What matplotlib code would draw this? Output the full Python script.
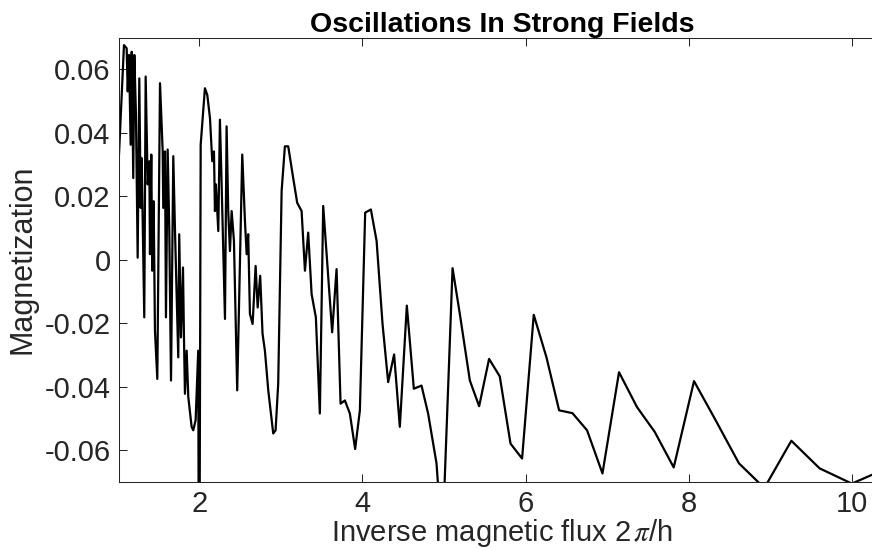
import matplotlib
matplotlib.use("Agg")
import matplotlib.pyplot as plt

# inverse flux values
inv_flux = [1.013, 1.074, 1.107, 1.120, 1.136, 1.156, 1.169, 1.188, 1.201, 1.221,
            1.242, 1.262, 1.279, 1.291, 1.304, 1.323, 1.340, 1.365, 1.385, 1.393,
            1.409, 1.421, 1.438, 1.454, 1.483, 1.516, 1.549, 1.556, 1.577, 1.589,
            1.610, 1.630, 1.651, 1.679, 1.700, 1.740, 1.752, 1.773, 1.798, 1.810,
            1.822, 1.843, 1.863, 1.904, 1.924, 1.953, 1.985, 1.996, 2.015, 2.067,
            2.096, 2.129, 2.157, 2.178, 2.190, 2.202, 2.218, 2.231, 2.251, 2.272,
            2.313, 2.333, 2.353, 2.374, 2.395, 2.423, 2.463, 2.525, 2.558, 2.579,
            2.598, 2.619, 2.652, 2.689, 2.714, 2.745, 2.774, 2.803, 2.844, 2.905,
            2.934, 2.966, 3.008, 3.048, 3.089, 3.150, 3.199, 3.253, 3.294, 3.334,
            3.376, 3.428, 3.477, 3.518, 3.628, 3.682, 3.731, 3.784, 3.845, 3.910,
            3.968, 4.033, 4.103, 4.173, 4.246, 4.315, 4.388, 4.458, 4.544, 4.630,
            4.724, 4.805, 4.908, 4.979, 5.105, 5.194, 5.317, 5.431, 5.553, 5.684,
            5.816, 5.958, 6.101, 6.257, 6.412, 6.576, 6.755, 6.944, 7.147, 7.368,
            7.585, 7.818, 8.067, 8.321, 8.618, 8.930, 9.261, 9.608, 10.003, 10.450]

magnetization = [0.0331, 0.0676, 0.0666, 0.0530, 0.0645, 0.0362, 0.0655, 0.0257, 0.0645, 0.0457,
                 0.0006, 0.0571, 0.0163, 0.0320, 0.0122, -0.0182, 0.0577, 0.0237, 0.0310, 0.0017,
                 0.0331, -0.0035, 0.0184, -0.0224, -0.0376, 0.0556, 0.0341, 0.0163, 0.0341, -0.0182,
                 0.0347, 0.0090, -0.0381, 0.0326, 0.0090, -0.0308, 0.0080, -0.0245, -0.0025, -0.0245,
                 -0.0423, -0.0287, -0.0433, -0.0527, -0.0538, -0.0506, -0.0287, -0.1400, 0.0362, 0.0540,
                 0.0519, 0.0446, 0.0310, 0.0341, 0.0153, 0.0237, 0.0153, 0.0090, 0.0441, 0.0237,
                 -0.0187, 0.0420, 0.0153, 0.0027, 0.0153, 0.0059, -0.0412, 0.0331, 0.0122, 0.0017,
                 0.0080, -0.0171, -0.0203, -0.0020, -0.0151, -0.0051, -0.0234, -0.0287, -0.0412, -0.0548,
                 -0.0538, -0.0391, 0.0216, 0.0357, 0.0357, 0.0257, 0.0179, 0.0153, -0.0035, 0.0085,
                 -0.0109, -0.0182, -0.0485, 0.0169, -0.0229, -0.0030, -0.0454, -0.0444, -0.0485, -0.0597,
                 -0.0475, 0.0148, 0.0158, 0.0059, -0.0203, -0.0386, -0.0299, -0.0527, -0.0145, -0.0407,
                 -0.0397, -0.0485, -0.0642, -0.0900, -0.0027, -0.0171, -0.0381, -0.0462, -0.0313, -0.0368,
                 -0.0580, -0.0627, -0.0174, -0.0308, -0.0475, -0.0484, -0.0538, -0.0674, -0.0355, -0.0465,
                 -0.0543, -0.0655, -0.0383, -0.0501, -0.0642, -0.0720, -0.0571, -0.0658, -0.0706, -0.0656]

yticks = [-0.06, -0.04, -0.02, 0, 0.02, 0.04, 0.06]
ytick_labels = ['-0.06', '-0.04', '-0.02', '0', '0.02', '0.04', '0.06']
xticks = [2, 4, 6, 8, 10]

plt.rcParams['font.family'] = ['Liberation Sans', 'DejaVu Sans']
plt.rcParams['mathtext.fontset'] = 'stix'
plt.rcParams['axes.unicode_minus'] = False

axcol = '#262626'
fig = plt.figure(figsize=(8.72, 5.5), dpi=100)
# right edge of the box sits just outside the picture, as in the reference
x_left, x_right = 1.013, 10.41
ax = fig.add_axes([119 / 872, 1 - 481.7 / 550, (885 - 119) / 872, (481.7 - 37.5) / 550])

ax.plot(inv_flux, magnetization, color='black', linewidth=1.6)

ax.set_xlim(x_left, x_right)
ax.set_ylim(-0.07, 0.07)
ax.set_xticks(xticks)
ax.set_xticklabels([str(t) for t in xticks])
ax.set_yticks(yticks)
ax.set_yticklabels(ytick_labels)

for s in ax.spines.values():
    s.set_color(axcol)
    s.set_linewidth(0.75)
ax.tick_params(direction='in', length=6, width=0.75, color=axcol, labelcolor=axcol,
               labelsize=21, top=True, right=True, pad=6)

ax.set_xlabel(r'Inverse magnetic flux 2$\,\pi$/h', fontsize=21, color=axcol, labelpad=-1)
ax.set_ylabel('Magnetization', fontsize=22, color=axcol, labelpad=5)
ax.set_title('Oscillations In Strong Fields', fontsize=20.5, fontweight='bold', pad=4)

fig.savefig('out.png', dpi=100)
